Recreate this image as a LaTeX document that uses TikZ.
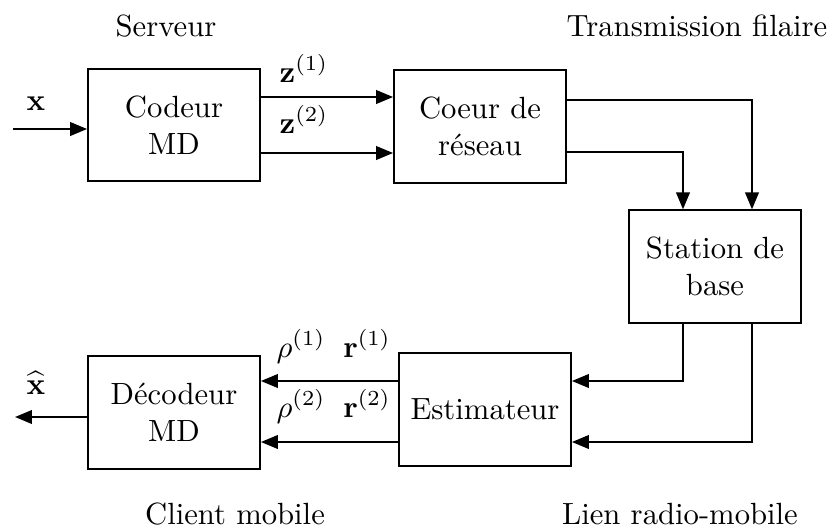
\documentclass[tikz,border=0pt]{standalone}
\usepackage{amsmath}
\usetikzlibrary{arrows.meta}
\begin{document}
\begin{tikzpicture}[x=0.326pt,y=-0.326pt,
  blk/.style={draw,line width=0.67pt,minimum width=56pt,minimum height=36.6pt,inner sep=0pt,align=center},
  conn/.style={line width=0.67pt,-{Triangle[length=5.5pt,width=4.4pt]}},
  lbl/.style={anchor=base,inner sep=0pt}]
\useasboundingbox (0,0) rectangle (833,528);
\node[blk] (cod) at (174,125) {Codeur\\MD};
\node[blk] (coe) at (480,126.5) {Coeur de\\r\'eseau};
\node[blk] (sta) at (715,266.5) {Station de\\base};
\node[blk] (est) at (485,409.5) {Estimateur};
\node[blk] (dec) at (174,412.5) {D\'ecodeur\\MD};
\coordinate (xin) at (13,129);
\coordinate (xout) at (15,417);
% titles
\node[lbl] (t1) at (166,36) {Serveur};
\node[lbl] (t2) at (697,36) {Transmission filaire};
\node[lbl] (t3) at (235,524) {Client mobile};
\node[lbl] (t4) at (680,524) {Lien radio-mobile};
% labels
\node[lbl] (lx) at (36,110) {$\mathbf{x}$};
\node[lbl] (lxh) at (36,394) {$\widehat{\mathbf{x}}$};
\node[lbl] (lz1) at (304,82) {$\mathbf{z}^{(1)}$};
\node[lbl] (lz2) at (304,133) {$\mathbf{z}^{(2)}$};
\node[lbl] (lp1) at (301,357) {$\rho^{(1)}$};
\node[lbl] (lr1) at (367,357) {$\mathbf{r}^{(1)}$};
\node[lbl] (lp2) at (301,417) {$\rho^{(2)}$};
\node[lbl] (lr2) at (367,417) {$\mathbf{r}^{(2)}$};
% connectors
\draw[conn] (xin) -- (cod.west |- xin);
\draw[conn] (cod.east |- 0,97) -- (coe.west |- 0,97);
\draw[conn] (cod.east |- 0,153) -- (coe.west |- 0,153);
\draw[conn] (coe.east |- 0,100) -| (sta.north -| 752,0);
\draw[conn] (coe.east |- 0,152) -| (sta.north -| 683,0);
\draw[conn] (sta.south -| 683,0) |- (est.east |- 0,381);
\draw[conn] (sta.south -| 752,0) |- (est.east |- 0,442);
\draw[conn] (est.west |- 0,381) -- (dec.east |- 0,381);
\draw[conn] (est.west |- 0,442) -- (dec.east |- 0,442);
\draw[conn] (dec.west |- xout) -- (xout);
\end{tikzpicture}
\end{document}
